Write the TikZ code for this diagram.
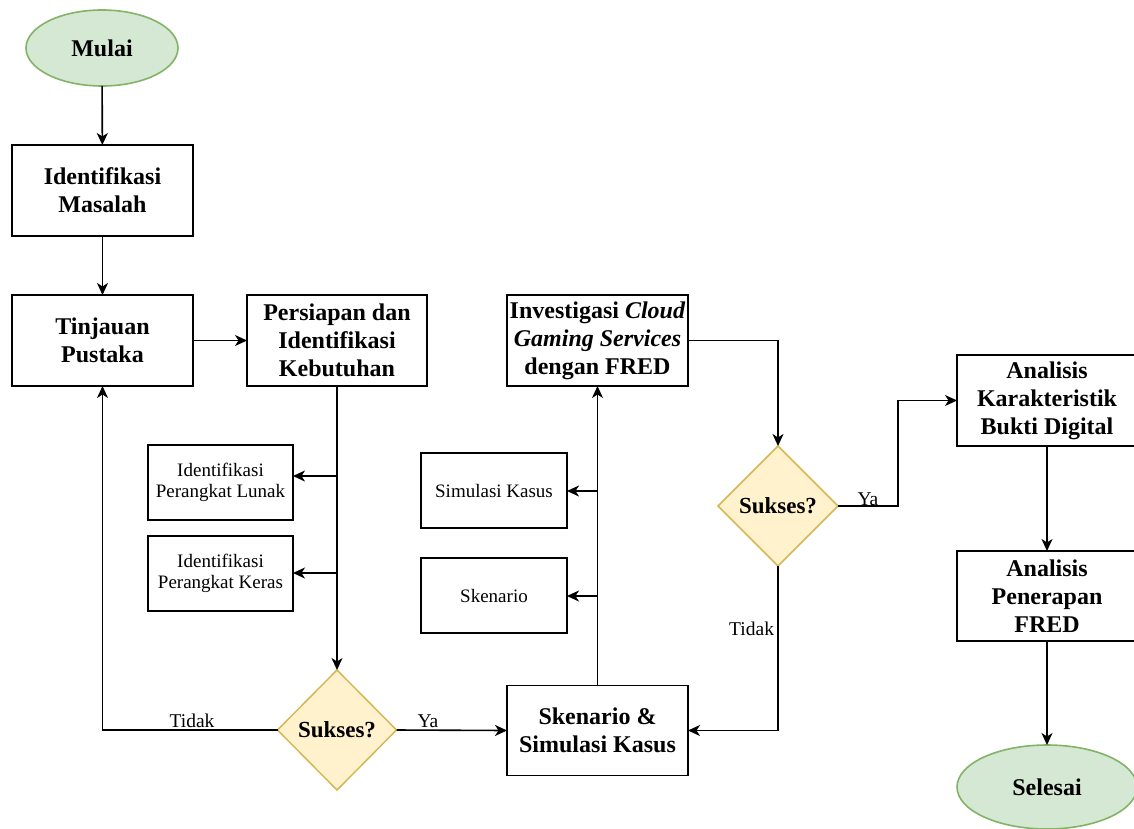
\documentclass[tikz,border=0pt]{standalone}
\usepackage{fontspec}
\setmainfont{Liberation Serif}
\usetikzlibrary{shapes.geometric,arrows.meta}
\definecolor{termfill}{HTML}{D5E8D4}
\definecolor{termdraw}{HTML}{82B366}
\definecolor{decfill}{HTML}{FFF2CC}
\definecolor{decdraw}{HTML}{D6B656}

\begin{document}
\begin{tikzpicture}[x=1pt,y=-1pt,
  every node/.style={inner sep=0pt,outer sep=0pt},
  mainfont/.style={font=\fontsize{24}{28}\selectfont\bfseries},
  box/.style={draw=black,line width=1.5pt,fill=white,align=center,mainfont,
    minimum width=181pt,minimum height=91pt},
  subbox/.style={draw=black,line width=1.5pt,fill=white,align=center,
    minimum width=145pt,minimum height=75pt,font=\fontsize{19}{20.5}\selectfont},
  terminal/.style={ellipse,draw=termdraw,fill=termfill,line width=1.6pt,mainfont},
  decision/.style={diamond,draw=decdraw,fill=decfill,line width=1.5pt,
    minimum width=120pt,minimum height=120pt,font=\fontsize{23}{27}\selectfont\bfseries},
  flow/.style={line width=1.6pt,-{Stealth[length=12pt,width=11pt,inset=3.5pt]}},
  edgelabel/.style={font=\fontsize{19.5}{22}\selectfont,anchor=base}
]
\useasboundingbox (0,0) rectangle (1134,829);

% start and left column
\node[terminal,minimum width=152pt,minimum height=76pt] (mulai) at (102,48) {Mulai};
\node[box] (masalah) at (102.5,190.5) {Identifikasi\\Masalah};
\node[box] (tinjauan) at (102.5,340.5) {Tinjauan\\Pustaka};

% preparation branch
\node[box,minimum width=180pt] (persiapan) at (337,340.5) {Persiapan dan\\Identifikasi\\Kebutuhan};
\node[subbox] (ipl) at (220.5,482.5) {Identifikasi\\Perangkat Lunak};
\node[subbox] (ipk) at (220.5,573.5) {Identifikasi\\Perangkat Keras};
\node[decision,minimum width=119pt] (dec1) at (337,730) {Sukses?};

% scenario and investigation
\node[box,minimum height=90pt] (skenario) at (597.5,730.5) {Skenario \&\\Simulasi Kasus};
\node[subbox,minimum width=146pt] (simkasus) at (494,490.5) {Simulasi Kasus};
\node[subbox,minimum width=146pt] (skenkecil) at (494,595.5) {Skenario};
\node[box] (investigasi) at (597.5,340.5) {Investigasi \textit{Cloud}\\\textit{Gaming Services}\\dengan FRED};
\node[decision] (dec2) at (778,506) {Sukses?};

% analysis column
\node[box,minimum width=180pt] (karakteristik) at (1047,400.5) {Analisis\\Karakteristik\\Bukti Digital};
\node[box,minimum width=180pt,minimum height=90pt] (penerapan) at (1047,596) {Analisis\\Penerapan\\FRED};
\node[terminal,minimum width=180pt,minimum height=84pt] (selesai) at (1047,787) {Selesai};

% connectors
\draw[flow] (mulai) -- (masalah);
\draw[flow] (masalah) -- (tinjauan);
\draw[flow] (tinjauan) -- (persiapan);
\draw[flow] (persiapan) -- (dec1);
\coordinate (t1) at (337,476);
\coordinate (t2) at (337,573);
\draw[flow] (t1) -- (t1 -| ipl.east);
\draw[flow] (t2) -- (t2 -| ipk.east);

\draw[flow] (dec1.west) -| (tinjauan.south);
\node[edgelabel] (tidak1) at (192,727) {Tidak};
\draw[flow] (dec1.east) -- (skenario.west);
\node[edgelabel] (ya1) at (428,727) {Ya};

\draw[flow] (skenario.north) -- (investigasi.south);
\coordinate (s1) at (597.5,491);
\coordinate (s2) at (597.5,596);
\draw[flow] (s1) -- (s1 -| simkasus.east);
\draw[flow] (s2) -- (s2 -| skenkecil.east);

\draw[flow] (investigasi.east) -| (dec2.north);
\coordinate (yabend) at (898,506);
\draw[flow] (dec2.east) -- (yabend) |- (karakteristik.west);
\node[edgelabel] (ya2) at (868,505) {Ya};
\draw[flow] (dec2.south) |- (skenario.east);
\node[edgelabel,anchor=base east] (tidak2) at (774,635) {Tidak};

\draw[flow] (karakteristik) -- (penerapan);
\draw[flow] (penerapan) -- (selesai);
\end{tikzpicture}
\end{document}
